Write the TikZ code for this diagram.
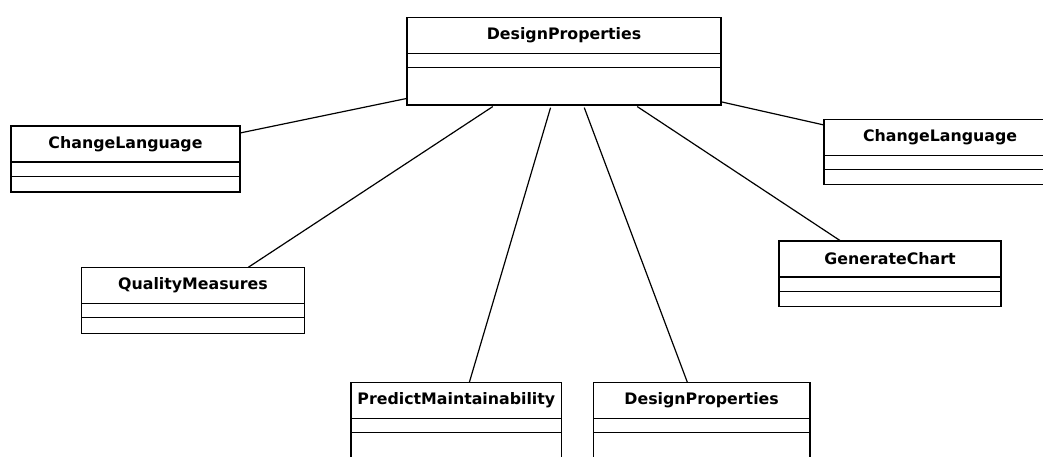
\documentclass[tikz,border=0pt]{standalone}
\usepackage{fontspec}
\setmainfont{DejaVu Sans}
\usepackage{tikz}
\usetikzlibrary{positioning}
\tikzset{
  clsname/.style={draw, line width=1.3pt, minimum height=36pt, inner sep=0pt, outer sep=0pt, anchor=north west, font=\fontsize{15.8}{18}\selectfont\bfseries},
  clsattr/.style={draw, line width=1.3pt, minimum height=14.5pt, inner sep=0pt, outer sep=0pt},
  clsops/.style={draw, line width=1.3pt, inner sep=0pt, outer sep=0pt},
  assoc/.style={line width=1.2pt},
  assocB/.style={line width=1.2pt, shorten <=2.7pt},
}

\begin{document}
\begin{tikzpicture}[x=1pt, y=-1pt]
\clip (0,0) rectangle (1043,457);
% --- central class ---
\node[clsname, minimum width=314pt] (dpN) at (407,17.3) {DesignProperties};
\node[clsattr, minimum width=314pt, below=0pt of dpN] (dpA) {};
\node[clsops, minimum width=314pt, minimum height=37.3pt, below=0pt of dpA] (dpO) {};
% --- ChangeLanguage (left) ---
\node[clsname, minimum width=229pt] (clN) at (11,126) {ChangeLanguage};
\node[clsattr, minimum width=229pt, below=0pt of clN] (clA) {};
\node[clsops, minimum width=229pt, minimum height=15.4pt, below=0pt of clA] (clO) {};
% --- QualityMeasures ---
\node[clsname, minimum width=222.6pt] (qmN) at (81.7,267.3) {QualityMeasures};
\node[clsattr, minimum width=222.6pt, below=0pt of qmN] (qmA) {};
\node[clsops, minimum width=222.6pt, minimum height=15.7pt, below=0pt of qmA] (qmO) {};
% --- PredictMaintainability ---
\node[clsname, minimum width=210.7pt] (pmN) at (351,382.3) {PredictMaintainability};
\node[clsattr, minimum width=210.7pt, below=0pt of pmN] (pmA) {};
\node[clsops, minimum width=210.7pt, minimum height=37pt, below=0pt of pmA] (pmO) {};
% --- DesignProperties (bottom) ---
\node[clsname, minimum width=216.7pt] (dqN) at (593.3,382.3) {DesignProperties};
\node[clsattr, minimum width=216.7pt, below=0pt of dqN] (dqA) {};
\node[clsops, minimum width=216.7pt, minimum height=37pt, below=0pt of dqA] (dqO) {};
% --- GenerateChart ---
\node[clsname, minimum width=222pt] (gcN) at (779,241) {GenerateChart};
\node[clsattr, minimum width=222pt, below=0pt of gcN] (gcA) {};
\node[clsops, minimum width=222pt, minimum height=15pt, below=0pt of gcA] (gcO) {};
% --- ChangeLanguage (right) ---
\node[clsname, minimum width=232pt] (crN) at (824,119.3) {ChangeLanguage};
\node[clsattr, minimum width=232pt, below=0pt of crN] (crA) {};
\node[clsops, minimum width=232pt, minimum height=15pt, below=0pt of crA] (crO) {};
% --- associations ---
\draw[assoc] ([yshift=6.7pt]dpO.south west) -- ([yshift=-7pt]clN.north east);
\draw[assocB] ([xshift=-69pt]dpO.south) -- ([xshift=55.3pt]qmN.north);
\draw[assocB] ([xshift=-12.7pt]dpO.south) -- ([xshift=13pt]pmN.north);
\draw[assocB] ([xshift=19.3pt]dpO.south) -- ([xshift=-14.3pt]dqN.north);
\draw[assocB] ([xshift=71pt]dpO.south) -- ([xshift=-49.3pt]gcN.north);
\draw[assoc] ([yshift=3.3pt]dpO.south east) -- ([yshift=-5.7pt]crN.north west);
\end{tikzpicture}
\end{document}
